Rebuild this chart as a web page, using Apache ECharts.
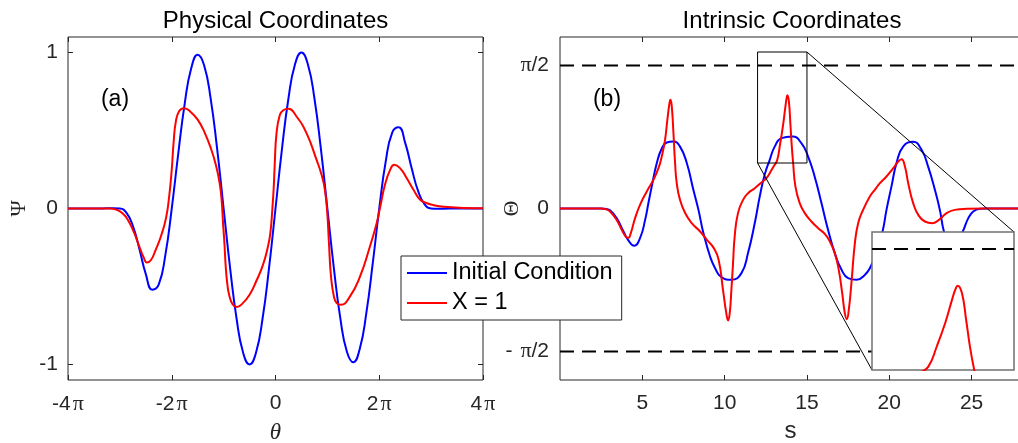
<!DOCTYPE html>
<html><head><meta charset="utf-8">
<script src="https://cdn.jsdelivr.net/npm/echarts@6/dist/echarts.min.js"></script>
<style>html,body{margin:0;padding:0;background:#fff}#c{width:1018px;height:443px}</style>
</head><body><div id="c"></div>
<script>
const PI = Math.PI;
// Left panel: theta in units of pi, Psi
const physInitial = [[-4,0],[-3.5,0],[-3.25,0.001],[-3.125,0.002],[-3,0],[-2.875,-0.027],[-2.75,-0.111],[-2.625,-0.258],[-2.5,-0.421],[-2.375,-0.521],[-2.25,-0.487],[-2.125,-0.302],[-2,0],[-1.875,0.351],[-1.75,0.673],[-1.625,0.899],[-1.5,0.986],[-1.375,0.917],[-1.25,0.705],[-1.125,0.382],[-1,0],[-0.875,-0.382],[-0.75,-0.707],[-0.625,-0.924],[-0.5,-1],[-0.375,-0.924],[-0.25,-0.707],[-0.125,-0.383],[0,0],[0.125,0.383],[0.25,0.707],[0.375,0.924],[0.5,1],[0.625,0.924],[0.75,0.707],[0.875,0.382],[1,0],[1.125,-0.382],[1.25,-0.705],[1.375,-0.917],[1.5,-0.986],[1.625,-0.899],[1.75,-0.673],[1.875,-0.351],[2,0],[2.125,0.302],[2.25,0.487],[2.375,0.521],[2.5,0.421],[2.625,0.258],[2.75,0.111],[2.875,0.027],[3,0],[3.125,-0.002],[3.25,-0.001],[3.5,0],[4,0]];
const physX1 = [[-4,0],[-3.5,0],[-3.2,0],[-3.05,-0.01],[-2.95,-0.03],[-2.85,-0.07],[-2.72,-0.16],[-2.63,-0.24],[-2.54,-0.315],[-2.48,-0.346],[-2.4,-0.33],[-2.31,-0.265],[-2.21,-0.18],[-2.11,-0.06],[-2.05,0.077],[-2,0.25],[-1.965,0.42],[-1.92,0.56],[-1.855,0.625],[-1.76,0.643],[-1.63,0.618],[-1.5,0.57],[-1.37,0.49],[-1.24,0.38],[-1.15,0.28],[-1.08,0.17],[-1.04,0.06],[-1.01,-0.1],[-0.985,-0.22],[-0.96,-0.37],[-0.93,-0.48],[-0.89,-0.56],[-0.825,-0.615],[-0.747,-0.632],[-0.63,-0.607],[-0.5,-0.553],[-0.374,-0.468],[-0.245,-0.365],[-0.15,-0.25],[-0.1,-0.16],[-0.06,0],[-0.035,0.13],[-0.014,0.29],[0.019,0.48],[0.083,0.6],[0.15,0.63],[0.244,0.639],[0.405,0.59],[0.598,0.483],[0.792,0.312],[0.888,0.216],[0.952,0.12],[0.998,-0.03],[1.03,-0.22],[1.07,-0.436],[1.126,-0.564],[1.18,-0.607],[1.262,-0.617],[1.436,-0.564],[1.63,-0.436],[1.82,-0.244],[1.95,-0.094],[2.02,0.013],[2.11,0.152],[2.21,0.248],[2.29,0.28],[2.4,0.259],[2.53,0.194],[2.66,0.12],[2.79,0.056],[2.92,0.034],[3.05,0.021],[3.24,0.011],[3.63,0.004],[4,0.002]];
// Right panel: s, Theta
const intrInitial = [[0,0],[2.5,0],[2.8,-0.005],[3.04,-0.02],[3.44,-0.106],[3.85,-0.25],[4.15,-0.35],[4.5,-0.41],[4.86,-0.326],[5.17,-0.125],[5.37,0.06],[5.57,0.24],[5.88,0.5],[6.18,0.66],[6.48,0.725],[6.89,0.736],[7.29,0.68],[7.7,0.5],[8.1,0.205],[8.41,-0.015],[8.71,-0.27],[9.12,-0.53],[9.42,-0.656],[9.8,-0.755],[10.41,-0.784],[11.02,-0.71],[11.42,-0.49],[11.83,-0.16],[12.13,0.13],[12.43,0.37],[12.74,0.535],[13.04,0.68],[13.45,0.773],[14.12,0.791],[14.66,0.718],[15.07,0.571],[15.47,0.35],[15.88,0.06],[16.28,-0.234],[16.69,-0.49],[17.1,-0.674],[17.5,-0.766],[18.01,-0.784],[18.51,-0.73],[18.82,-0.656],[19.2,-0.49],[19.59,-0.253],[19.83,-0.015],[20.13,0.24],[20.44,0.5],[20.84,0.68],[21.45,0.733],[21.96,0.645],[22.36,0.46],[22.77,0.205],[23.07,-0.015],[23.32,-0.253],[23.6,-0.38],[23.85,-0.41],[24.15,-0.35],[24.47,-0.25],[24.8,-0.106],[25.1,-0.033],[25.5,-0.004],[25.9,0],[28,0]];
const intrX1 = [[0,0],[2.5,0],[2.8,-0.008],[3.04,-0.033],[3.44,-0.125],[3.75,-0.234],[3.99,-0.308],[4.15,-0.322],[4.3,-0.27],[4.56,-0.106],[4.86,0.04],[5.27,0.187],[5.67,0.315],[5.98,0.443],[6.18,0.571],[6.38,0.755],[6.52,0.974],[6.65,1.157],[6.71,1.194],[6.79,1.12],[6.89,0.83],[6.99,0.5],[7.09,0.278],[7.29,0.095],[7.6,-0.05],[8,-0.16],[8.51,-0.253],[8.92,-0.344],[9.32,-0.43],[9.63,-0.56],[9.9,-0.894],[10.1,-1.15],[10.21,-1.231],[10.31,-1.15],[10.41,-0.894],[10.51,-0.6],[10.61,-0.308],[10.81,-0.051],[11.12,0.095],[11.42,0.168],[11.83,0.223],[12.23,0.286],[12.54,0.333],[12.84,0.42],[13,0.47],[13.19,0.53],[13.37,0.71],[13.55,0.92],[13.69,1.12],[13.76,1.21],[13.81,1.245],[13.9,1.18],[13.99,0.94],[14.07,0.705],[14.16,0.5],[14.3,0.24],[14.56,0.059],[14.87,-0.051],[15.27,-0.143],[15.68,-0.216],[16.08,-0.278],[16.39,-0.363],[16.69,-0.49],[16.93,-0.674],[17.14,-0.93],[17.3,-1.15],[17.42,-1.216],[17.54,-1.114],[17.7,-0.82],[17.91,-0.381],[18.11,-0.161],[18.41,-0.015],[18.82,0.132],[19.12,0.205],[19.43,0.278],[19.83,0.352],[20.24,0.443],[20.54,0.516],[20.74,0.542],[20.95,0.462],[21.15,0.278],[21.45,0.059],[21.76,-0.07],[22.16,-0.143],[22.63,-0.161],[23.07,-0.117],[23.48,-0.051],[23.98,-0.015],[24.69,-0.004],[25.9,0],[28,0]];
// Zoom window (data units)
const zoomS = [12, 15];
const zoomTheta = [0.5, 1.72];
const dashLevels = [PI/2, -PI/2];
// Tick labels
const physXTicks = [-4,-2,0,2,4];
const physXTickText = ['-4{p|π}','-2{p|π}','0','2{p|π}','4{p|π}'];
const physYTicks = [-1,0,1];
const physYTickText = ['-1','0','1'];
const intrXTicks = [5,10,15,20,25];
const intrYTicks = [-PI/2,0,PI/2];
const intrYTickText = ['- {p|π}/2','0','{p|π}/2'];

const AX = '#262626';
const SANS = 'Liberation Sans';
const SERIF = 'Liberation Serif';
const richP = {p:{fontFamily:SERIF,fontSize:22,color:AX,padding:[0,0,0,2]}};
const lookup = (ticks, texts) => v => { const i = ticks.findIndex(t => Math.abs(t - v) < 1e-6); return i < 0 ? '' : texts[i]; };
const tick = (vals) => ({show:true, inside:true, length:5, lineStyle:{color:AX,width:1}, customValues: vals});
const noLine = {show:false, onZero:false};

const chart = echarts.init(document.getElementById('c'), null, {renderer:'canvas'});
const option = {
  animation:false,
  backgroundColor:'#fff',
  grid:[
    {left:68, top:37, width:415, height:343, show:true, borderColor:AX, borderWidth:1, backgroundColor:'transparent', outerBoundsMode:'none', containLabel:false},
    {left:560, top:37, width:461, height:343, show:true, borderColor:AX, borderWidth:1, backgroundColor:'transparent', outerBoundsMode:'none', containLabel:false},
    {left:872, top:232, width:142, height:138, show:true, borderColor:'#707070', borderWidth:1.5, backgroundColor:'#fff', z:10, outerBoundsMode:'none', containLabel:false}
  ],
  xAxis:[
    {gridIndex:0, type:'value', min:-4, max:4, interval:2, axisLine:noLine, splitLine:{show:false}, axisTick:tick(physXTicks),
     axisLabel:{customValues:physXTicks, formatter:lookup(physXTicks, physXTickText), rich:richP, fontSize:21, fontFamily:SANS, color:AX, margin:13},
     name:'θ', nameLocation:'middle', nameGap:41, nameMoveOverlap:false, nameTextStyle:{fontFamily:SERIF, fontStyle:'italic', fontSize:23, color:AX}},
    {gridIndex:0, type:'value', position:'top', min:-4, max:4, interval:2, axisLine:noLine, splitLine:{show:false}, axisTick:tick(physXTicks), axisLabel:{show:false}},
    {gridIndex:1, type:'value', min:0, max:28, interval:5, axisLine:noLine, splitLine:{show:false}, axisTick:tick(intrXTicks),
     axisLabel:{customValues:intrXTicks, fontSize:21, fontFamily:SANS, color:AX, margin:13},
     name:'s', nameLocation:'middle', nameGap:39, nameMoveOverlap:false, nameTextStyle:{fontFamily:SANS, fontSize:24, color:AX}},
    {gridIndex:1, type:'value', position:'top', min:0, max:28, interval:5, axisLine:noLine, splitLine:{show:false}, axisTick:tick(intrXTicks), axisLabel:{show:false}},
    {gridIndex:2, type:'value', min:zoomS[0], max:zoomS[1], show:false}
  ],
  yAxis:[
    {gridIndex:0, type:'value', min:-1.1, max:1.1, axisLine:noLine, splitLine:{show:false}, axisTick:tick(physYTicks),
     axisLabel:{customValues:physYTicks, formatter:lookup(physYTicks, physYTickText), fontSize:21, fontFamily:SANS, color:AX, margin:10},
     name:'Ψ', nameLocation:'middle', nameGap:38, nameMoveOverlap:false, nameTextStyle:{fontFamily:SERIF, fontSize:22, color:AX}},
    {gridIndex:0, type:'value', position:'right', min:-1.1, max:1.1, axisLine:noLine, splitLine:{show:false}, axisTick:tick(physYTicks), axisLabel:{show:false}},
    {gridIndex:1, type:'value', min:-0.6*PI, max:0.6*PI, axisLine:noLine, splitLine:{show:false}, axisTick:tick(intrYTicks),
     axisLabel:{customValues:intrYTicks, formatter:lookup(intrYTicks, intrYTickText), rich:richP, fontSize:21, fontFamily:SANS, color:AX, margin:11},
     name:'Θ', nameLocation:'middle', nameGap:37, nameMoveOverlap:false, nameTextStyle:{fontFamily:SERIF, fontSize:22, color:AX}},
    {gridIndex:2, type:'value', min:zoomTheta[0], max:zoomTheta[1], show:false}
  ],
  legend:{data:['Initial Condition','X = 1'], orient:'vertical', left:401, top:256, padding:[5,9,5,6], itemWidth:40, itemHeight:2, itemGap:6, icon:'rect',
    backgroundColor:'#fff', borderColor:AX, borderWidth:1, borderRadius:0, z:20,
    textStyle:{fontSize:23.5, fontFamily:SANS, color:'#000'}},
  series:[
    {name:'Initial Condition', type:'line', xAxisIndex:0, yAxisIndex:0, data:physInitial, symbol:'none', showSymbol:false, smooth:true, color:'#0000ff', lineStyle:{color:'#0000ff', width:2}},
    {name:'X = 1', type:'line', xAxisIndex:0, yAxisIndex:0, data:physX1, symbol:'none', showSymbol:false, smooth:true, color:'#ff0000', lineStyle:{color:'#ff0000', width:2}},
    {name:'Initial Condition', type:'line', xAxisIndex:2, yAxisIndex:2, data:intrInitial, symbol:'none', showSymbol:false, smooth:true, color:'#0000ff', lineStyle:{color:'#0000ff', width:2}},
    {name:'X = 1', type:'line', xAxisIndex:2, yAxisIndex:2, data:intrX1, symbol:'none', showSymbol:false, smooth:true, color:'#ff0000', lineStyle:{color:'#ff0000', width:2}},
    {name:'dashUp', type:'line', xAxisIndex:2, yAxisIndex:2, data:[[0,dashLevels[0]],[28,dashLevels[0]]], symbol:'none', lineStyle:{color:'#000', width:2, type:[14,8]}, z:3},
    {name:'dashDown', type:'line', xAxisIndex:2, yAxisIndex:2, data:[[0,dashLevels[1]],[28,dashLevels[1]]], symbol:'none', lineStyle:{color:'#000', width:2, type:[14,8]}, z:3},
    {name:'zoomBox', type:'line', xAxisIndex:2, yAxisIndex:2, data:[[zoomS[0],zoomTheta[0]],[zoomS[0],zoomTheta[1]],[zoomS[1],zoomTheta[1]],[zoomS[1],zoomTheta[0]],[zoomS[0],zoomTheta[0]]], symbol:'none', lineStyle:{color:'#000', width:1}, z:4},
    {name:'insetDash', type:'line', xAxisIndex:4, yAxisIndex:3, data:[[zoomS[0],dashLevels[0]],[zoomS[1],dashLevels[0]]], symbol:'none', lineStyle:{color:'#000', width:2, type:[14,8]}, z:12},
    {name:'insetX1', type:'line', xAxisIndex:4, yAxisIndex:3, data:intrX1, symbol:'none', smooth:true, lineStyle:{color:'#ff0000', width:2}, z:12}
  ],
  graphic:[
    {id:'t1', type:'text', x:275.5, y:21, style:{text:'Physical Coordinates', fontSize:24, fontFamily:SANS, fill:'#000', align:'center', verticalAlign:'middle'}},
    {id:'t2', type:'text', x:792, y:21, style:{text:'Intrinsic Coordinates', fontSize:24, fontFamily:SANS, fill:'#000', align:'center', verticalAlign:'middle'}},
    {id:'la', type:'text', x:115, y:100, style:{text:'(a)', fontSize:23, fontFamily:SANS, fill:'#000', align:'center', verticalAlign:'middle'}},
    {id:'lb', type:'text', x:607, y:100, style:{text:'(b)', fontSize:23, fontFamily:SANS, fill:'#000', align:'center', verticalAlign:'middle'}}
  ]
};
chart.setOption(option);
// connector lines from zoom box corners to inset corners
const a1 = chart.convertToPixel({seriesIndex:3}, [zoomS[1], zoomTheta[1]]);
const b1 = chart.convertToPixel({seriesIndex:8}, [zoomS[1], zoomTheta[1]]);
const a2 = chart.convertToPixel({seriesIndex:3}, [zoomS[0], zoomTheta[0]]);
const b2 = chart.convertToPixel({seriesIndex:8}, [zoomS[0], zoomTheta[0]]);
chart.setOption({graphic:[
  {id:'c1', type:'line', z:5, shape:{x1:a1[0], y1:a1[1], x2:b1[0], y2:b1[1]}, style:{stroke:'#000', lineWidth:1}},
  {id:'c2', type:'line', z:5, shape:{x1:a2[0], y1:a2[1], x2:b2[0], y2:b2[1]}, style:{stroke:'#000', lineWidth:1}}
]});
</script></body></html>
